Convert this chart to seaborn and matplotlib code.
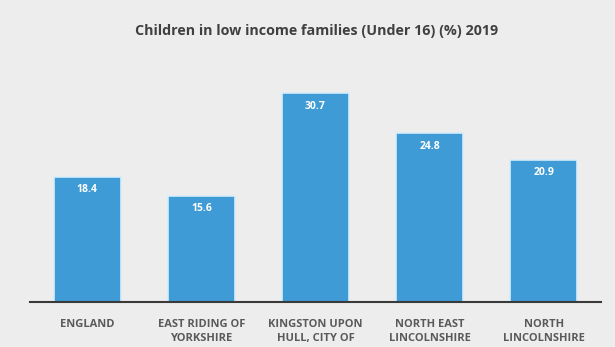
import matplotlib
matplotlib.use("Agg")
import matplotlib.pyplot as plt
import seaborn as sns
import pandas as pd

# Children in low income families (under 16), percentage, 2019
areas = [
    "ENGLAND",
    "EAST RIDING OF\nYORKSHIRE",
    "KINGSTON UPON\nHULL, CITY OF",
    "NORTH EAST\nLINCOLNSHIRE",
    "NORTH\nLINCOLNSHIRE",
]
percent = [18.4, 15.6, 30.7, 24.8, 20.9]
title = "Children in low income families (Under 16) (%) 2019"

df = pd.DataFrame({"area": areas, "percent": percent})

sns.set_theme(style="white")
plt.rcParams["font.family"] = ["Open Sans", "DejaVu Sans"]

bg = "#eeeded"
bar_color = "#3f9bd6"

fig = plt.figure(figsize=(6.15, 3.47), dpi=100, facecolor=bg)
ax = fig.add_axes([0.049, 0.131, 0.928, 0.685])
ax.set_facecolor(bg)

sns.barplot(data=df, x="area", y="percent", color=bar_color, width=0.59,
            saturation=1, edgecolor="#d6ecfa", linewidth=1.2, ax=ax)

ax.set_ylim(0, 35)
ax.set_xlim(-0.5, 4.5)
ax.set_xlabel("")
ax.set_ylabel("")
ax.set_yticks([])

for i, v in enumerate(percent):
    ax.text(i, v - 1.1, f"{v:.1f}", ha="center", va="top", color="white",
            fontsize=7.5, fontweight="bold")

for side in ["top", "right", "left"]:
    ax.spines[side].set_visible(False)
ax.spines["bottom"].set_color("#3a3a3a")
ax.spines["bottom"].set_linewidth(1.5)

ax.tick_params(axis="x", length=0, pad=12.5)
for lbl in ax.get_xticklabels():
    lbl.set_fontsize(8)
    lbl.set_fontweight("bold")
    lbl.set_color("#5a5a5a")
    lbl.set_linespacing(1.35)
    lbl.set_verticalalignment("top")

fig.text(0.515, 0.912, title, ha="center", va="center", fontsize=10.3,
         fontweight="bold", color="#404040")

fig.savefig("out.png", dpi=100, facecolor=bg)
